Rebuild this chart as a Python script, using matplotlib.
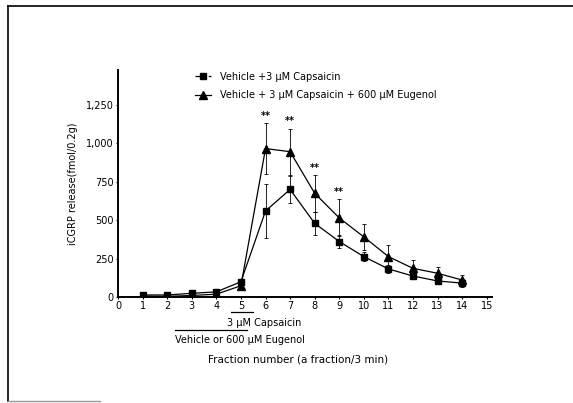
import matplotlib.pyplot as plt
from matplotlib.lines import Line2D
import numpy as np

fraction = np.arange(1, 15)

# Vehicle + 3 uM Capsaicin (squares)
caps = [15, 15, 26, 35, 101, 560, 700, 480, 362, 264, 184, 138, 106, 92]
caps_err = [8, 8, 10, 10, 20, 175, 88, 75, 45, 30, 25, 22, 20, 25]

# Vehicle + 3 uM Capsaicin + 600 uM Eugenol (triangles)
eug = [8, 6, 12, 20, 75, 965, 945, 675, 515, 392, 264, 188, 156, 112]
eug_err = [5, 5, 6, 8, 15, 165, 150, 120, 120, 85, 75, 55, 38, 30]

star_idx = [5, 6, 7, 8]

plt.rcParams['font.family'] = 'DejaVu Sans'
fig = plt.figure(figsize=(5.73, 4.03), dpi=100)
ax = fig.add_axes([0.206, 0.2623, 0.652, 0.564])

ax.errorbar(fraction, caps, yerr=caps_err, color='black', marker='s', markersize=5,
            linewidth=0.9, elinewidth=0.6, capsize=1.5, capthick=0.6)
ax.errorbar(fraction, eug, yerr=eug_err, color='black', marker='^', markersize=6,
            linewidth=0.9, elinewidth=0.6, capsize=1.5, capthick=0.6)

for i in star_idx:
    ax.annotate('**', (fraction[i], eug[i] + eug_err[i]), xytext=(0, 1.5),
                textcoords='offset points', ha='center', va='bottom',
                fontsize=7, fontweight='bold')

ax.set_xlim(0, 15.2)
ax.set_ylim(0, 1475)
ax.set_xticks(range(0, 16))
ax.set_yticks([0, 250, 500, 750, 1000, 1250])
ax.set_yticklabels(['0', '250', '500', '750', '1,000', '1,250'])
ax.tick_params(labelsize=7, length=1.5, width=0.8, pad=1.5)
ax.spines['top'].set_visible(False)
ax.spines['right'].set_visible(False)
ax.spines['left'].set_linewidth(1.4)
ax.spines['bottom'].set_linewidth(1.4)
ax.set_ylabel('iCGRP release(fmol/0.2g)', fontsize=7, labelpad=6)

handles = [Line2D([], [], color='black', marker='s', markersize=5, linewidth=0.9, linestyle='--'),
           Line2D([], [], color='black', marker='^', markersize=6, linewidth=0.9)]
labels = ['Vehicle +3 \u03bcM Capsaicin', 'Vehicle + 3 \u03bcM Capsaicin + 600 \u03bcM Eugenol']
ax.legend(handles, labels, loc='upper left', bbox_to_anchor=(0.325, 1 - 63 / 403, 0, 0),
          bbox_transform=fig.transFigure, frameon=False, fontsize=7,
          handlelength=1.6, handletextpad=1.0, labelspacing=0.9)

# treatment bars below the x axis
ax.plot([4.6, 5.5], [-0.065, -0.065], color='black', linewidth=0.9,
        transform=ax.get_xaxis_transform(), clip_on=False)
ax.text(5.95, -0.09, '3 \u03bcM Capsaicin', transform=ax.get_xaxis_transform(),
        ha='center', va='top', fontsize=7)
ax.plot([2.3, 5.25], [-0.145, -0.145], color='black', linewidth=0.9,
        transform=ax.get_xaxis_transform(), clip_on=False)
ax.text(2.3, -0.165, 'Vehicle or 600 \u03bcM Eugenol', transform=ax.get_xaxis_transform(),
        ha='left', va='top', fontsize=7)

fig.text(298 / 573, 1 - 360 / 403, 'Fraction number (a fraction/3 min)',
         ha='center', va='center', fontsize=7.5)

# outer frame of the scanned figure
fig.add_artist(Line2D([8 / 573, 8 / 573], [1 - 401 / 403, 1 - 6 / 403], color='black', linewidth=1.2))
fig.add_artist(Line2D([8 / 573, 1], [1 - 6 / 403, 1 - 6 / 403], color='black', linewidth=1.2))
fig.add_artist(Line2D([8 / 573, 100 / 573], [1 - 401 / 403, 1 - 401 / 403], color='0.6', linewidth=1.0))

fig.savefig('out.png', dpi=100)
